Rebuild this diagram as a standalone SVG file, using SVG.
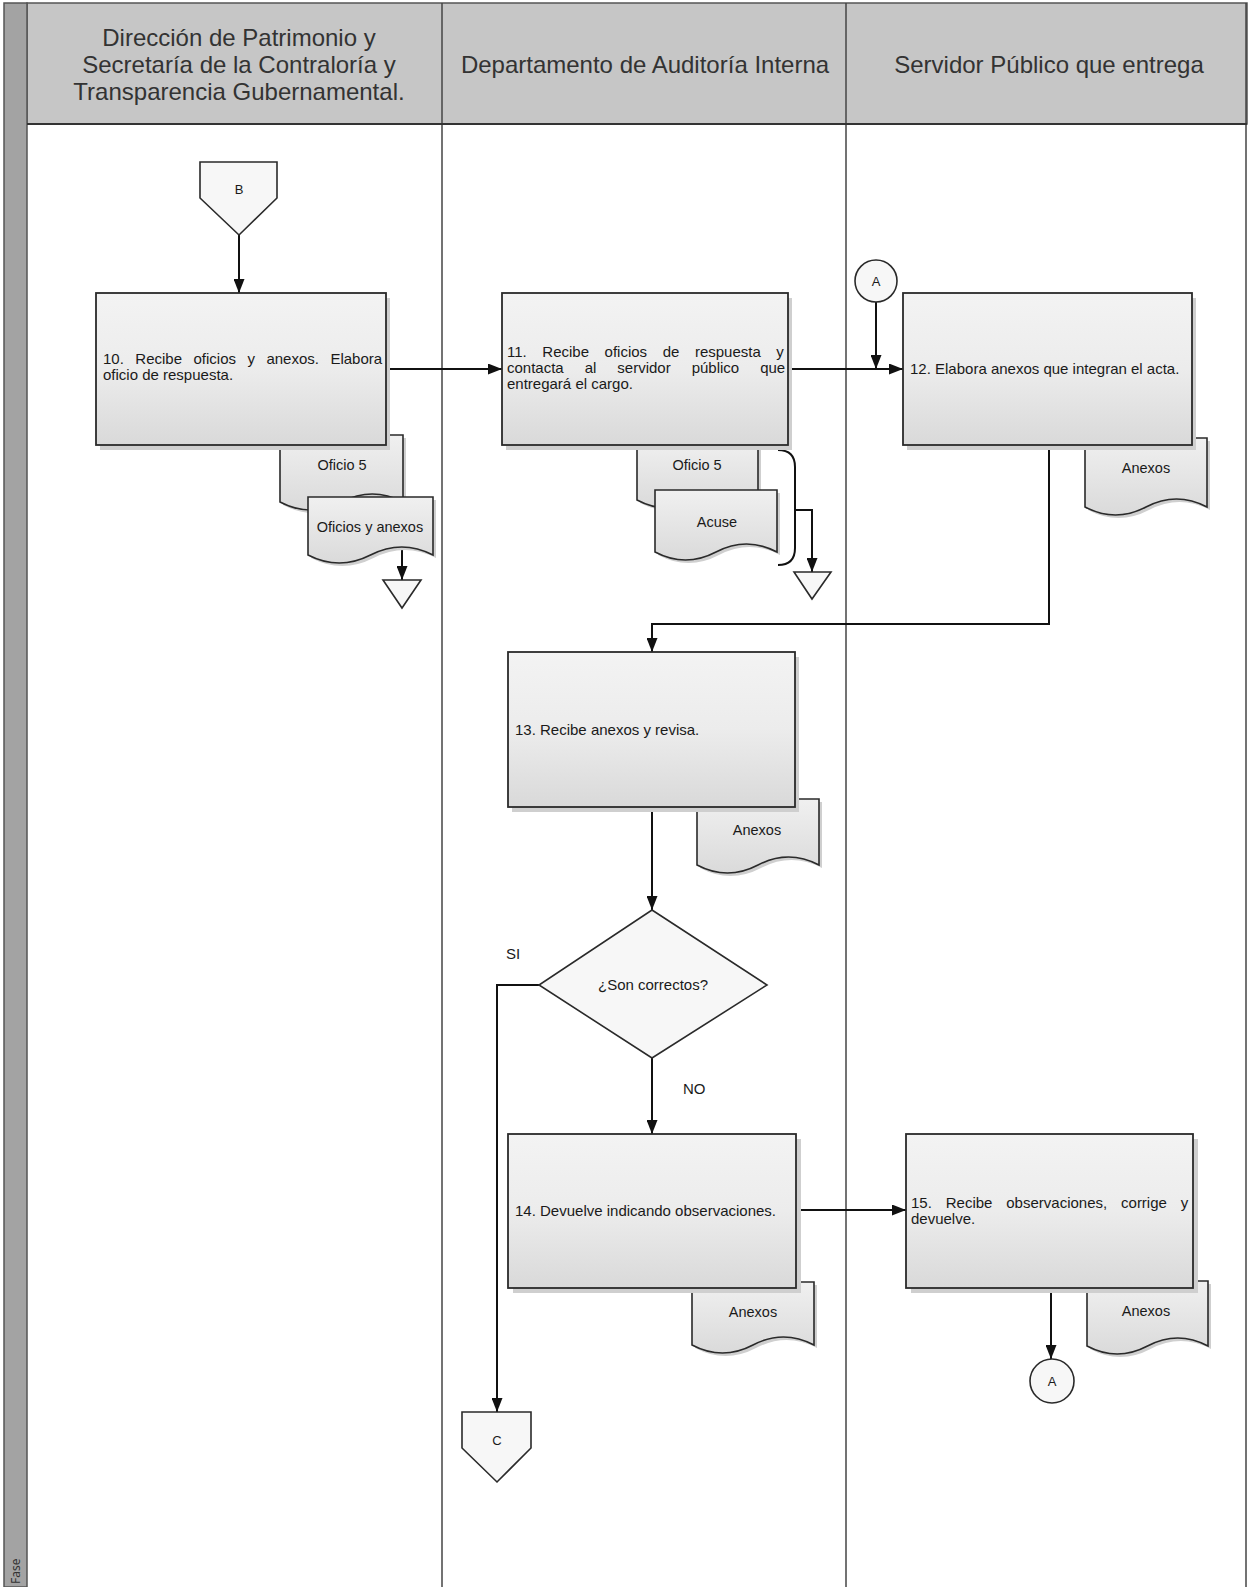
<svg xmlns="http://www.w3.org/2000/svg" width="1249" height="1587" viewBox="0 0 1249 1587">
<defs>
<style>
.hdr{font-family:"Liberation Sans",Arial,sans-serif;font-size:24px;fill:#333;text-anchor:middle}
.t{font-family:"Liberation Sans",Arial,sans-serif;font-size:15px;fill:#1a1a1a}
.dt{font-family:"Liberation Sans",Arial,sans-serif;font-size:14.5px;fill:#1a1a1a;text-anchor:middle}
.lb{font-family:"Liberation Sans",Arial,sans-serif;font-size:13px;fill:#1a1a1a;text-anchor:middle}
.box{fill:url(#gBox);stroke:#2a2a2a;stroke-width:1.8}
.doc{fill:url(#gDoc);stroke:#2a2a2a;stroke-width:1.6}
.shadow{fill:#cfcfcf}
.sym{fill:#f7f7f7;stroke:#2a2a2a;stroke-width:1.6}
.ln{fill:none;stroke:#111;stroke-width:2}
.arr{fill:none;stroke:#111;stroke-width:2;marker-end:url(#ah)}
.lane{stroke:#444;stroke-width:1.5}
</style>
<linearGradient id="gBox" x1="0" y1="0" x2="0" y2="1">
<stop offset="0" stop-color="#f3f3f3"/>
<stop offset="0.5" stop-color="#ececec"/>
<stop offset="1" stop-color="#d9d9d9"/>
</linearGradient>
<linearGradient id="gDoc" x1="0" y1="0" x2="0" y2="1">
<stop offset="0" stop-color="#f0f0f0"/>
<stop offset="1" stop-color="#dadada"/>
</linearGradient>
<marker id="ah" markerWidth="14" markerHeight="11" refX="14" refY="5.5" orient="auto" markerUnits="userSpaceOnUse">
<path d="M0,0 L14,5.5 L0,11 Z" fill="#111"/>
</marker>
</defs>

<g id="frame">
<rect x="0" y="0" width="1249" height="1587" fill="#ffffff"/>
<rect x="27" y="3" width="1220" height="121" fill="#c6c6c6" stroke="#555" stroke-width="1.5"/>
<rect x="4" y="3" width="23" height="1584" fill="#a3a3a3" stroke="#555" stroke-width="1.5"/>
<line class="lane" x1="442" y1="3" x2="442" y2="1587"/>
<line class="lane" x1="846" y1="3" x2="846" y2="1587"/>
<line class="lane" x1="1246" y1="3" x2="1246" y2="1587"/>
<line x1="27" y1="124" x2="1247" y2="124" stroke="#333" stroke-width="2"/>
<text class="hdr" x="239" y="46">Dirección de Patrimonio y</text>
<text class="hdr" x="239" y="73">Secretaría de la Contraloría y</text>
<text class="hdr" x="239" y="100">Transparencia Gubernamental.</text>
<text class="hdr" x="645" y="73">Departamento de Auditoría Interna</text>
<text class="hdr" x="1049" y="73">Servidor Público que entrega</text>
<text x="20" y="1584" transform="rotate(-90 20 1584)" font-family="'Noto Sans','Liberation Sans',sans-serif" font-size="12" fill="#333">Fase</text>
</g>

<g id="connectors">
<path class="arr" d="M239,235 V293"/>
<path class="arr" d="M386,369 H502"/>
<path class="arr" d="M788,369 H903"/>
<path class="arr" d="M876,302 V369"/>
<path class="arr" d="M402,547 V580"/>
<path class="ln" d="M778,450 Q795,450 795,467 V548 Q795,565 778,565"/>
<path class="arr" d="M795,510 H812 V572"/>
<path class="arr" d="M1049,445 V624 H652 V652"/>
<path class="arr" d="M652,807 V910"/>
<path class="arr" d="M539,985 H497 V1412"/>
<path class="arr" d="M652,1058 V1134"/>
<path class="arr" d="M796,1210 H906"/>
<path class="arr" d="M1051,1288 V1359"/>
<text class="t" x="506" y="959">SI</text>
<text class="t" x="683" y="1094">NO</text>
</g>

<g id="conn-B">
<path class="sym" d="M200,162 H277 V198 L239,235 L200,198 Z"/>
<text class="lb" x="239" y="194">B</text>
</g>

<g id="doc-10a">
<path class="shadow" transform="translate(3,3)" d="M280,435 L280,502 Q310.75,518 341.5,502 T403,502 L403,435 Z"/>
<path class="doc" d="M280,435 L280,502 Q310.75,518 341.5,502 T403,502 L403,435 Z"/>
<text class="dt" x="342" y="470">Oficio 5</text>
</g>
<g id="doc-10b">
<path class="shadow" transform="translate(3,3)" d="M308,497 L308,555 Q339.25,571 370.5,555 T433,555 L433,497 Z"/>
<path class="doc" d="M308,497 L308,555 Q339.25,571 370.5,555 T433,555 L433,497 Z"/>
<text class="dt" x="370" y="532">Oficios y anexos</text>
</g>
<g id="store-10">
<path class="sym" d="M383,580 H421 L402,608 Z"/>
</g>

<g id="box-10">
<rect class="shadow" x="100" y="298" width="290" height="152"/>
<rect class="box" x="96" y="293" width="290" height="152"/>
<text class="t" x="103" y="364" word-spacing="7.3">10. Recibe oficios y anexos. Elabora</text>
<text class="t" x="103" y="380">oficio de respuesta.</text>
</g>

<g id="doc-11a">
<path class="shadow" transform="translate(3,3)" d="M637,440 L637,500 Q667.25,516 697.5,500 T758,500 L758,440 Z"/>
<path class="doc" d="M637,440 L637,500 Q667.25,516 697.5,500 T758,500 L758,440 Z"/>
<text class="dt" x="697" y="470">Oficio 5</text>
</g>
<g id="doc-11b">
<path class="shadow" transform="translate(3,3)" d="M655,490 L655,552 Q685.5,568 716,552 T777,552 L777,490 Z"/>
<path class="doc" d="M655,490 L655,552 Q685.5,568 716,552 T777,552 L777,490 Z"/>
<text class="dt" x="717" y="527">Acuse</text>
</g>
<g id="store-11">
<path class="sym" d="M794,572 H831 L812,599 Z"/>
</g>

<g id="box-11">
<rect class="shadow" x="506" y="298" width="286" height="152"/>
<rect class="box" x="502" y="293" width="286" height="152"/>
<text class="t" x="507" y="357" word-spacing="11.4">11. Recibe oficios de respuesta y</text>
<text class="t" x="507" y="373" word-spacing="16.8">contacta al servidor público que</text>
<text class="t" x="507" y="389">entregará el cargo.</text>
</g>

<g id="conn-A-top">
<circle class="sym" cx="876" cy="281" r="21"/>
<text class="lb" x="876" y="286">A</text>
</g>

<g id="doc-12">
<path class="shadow" transform="translate(3,3)" d="M1085,438 L1085,507 Q1115.5,523 1146,507 T1207,507 L1207,438 Z"/>
<path class="doc" d="M1085,438 L1085,507 Q1115.5,523 1146,507 T1207,507 L1207,438 Z"/>
<text class="dt" x="1146" y="473">Anexos</text>
</g>
<g id="box-12">
<rect class="shadow" x="907" y="298" width="289" height="152"/>
<rect class="box" x="903" y="293" width="289" height="152"/>
<text class="t" x="910" y="374">12. Elabora anexos que integran el acta.</text>
</g>

<g id="doc-13">
<path class="shadow" transform="translate(3,3)" d="M697,799 L697,865 Q727.5,881 758,865 T819,865 L819,799 Z"/>
<path class="doc" d="M697,799 L697,865 Q727.5,881 758,865 T819,865 L819,799 Z"/>
<text class="dt" x="757" y="835">Anexos</text>
</g>
<g id="box-13">
<rect class="shadow" x="512" y="657" width="287" height="155"/>
<rect class="box" x="508" y="652" width="287" height="155"/>
<text class="t" x="515" y="735">13. Recibe anexos y revisa.</text>
</g>

<g id="dec-14">
<path class="sym" d="M652,910 L767,985 L652,1058 L539,985 Z" fill="#fafafa"/>
<text class="t" x="653" y="990" text-anchor="middle" font-size="14.5">¿Son correctos?</text>
</g>

<g id="doc-14">
<path class="shadow" transform="translate(3,3)" d="M692,1282 L692,1345 Q722.5,1361 753,1345 T814,1345 L814,1282 Z"/>
<path class="doc" d="M692,1282 L692,1345 Q722.5,1361 753,1345 T814,1345 L814,1282 Z"/>
<text class="dt" x="753" y="1317">Anexos</text>
</g>
<g id="box-14">
<rect class="shadow" x="513" y="1139" width="288" height="154"/>
<rect class="box" x="508" y="1134" width="288" height="154"/>
<text class="t" x="515" y="1216">14. Devuelve indicando observaciones.</text>
</g>

<g id="doc-15">
<path class="shadow" transform="translate(3,3)" d="M1087,1281 L1087,1346 Q1117.25,1362 1147.5,1346 T1208,1346 L1208,1281 Z"/>
<path class="doc" d="M1087,1281 L1087,1346 Q1117.25,1362 1147.5,1346 T1208,1346 L1208,1281 Z"/>
<text class="dt" x="1146" y="1316">Anexos</text>
</g>
<g id="box-15">
<rect class="shadow" x="911" y="1139" width="287" height="154"/>
<rect class="box" x="906" y="1134" width="287" height="154"/>
<text class="t" x="911" y="1208" word-spacing="9.7">15. Recibe observaciones, corrige y</text>
<text class="t" x="911" y="1224">devuelve.</text>
</g>

<g id="conn-A-bottom">
<circle class="sym" cx="1052" cy="1381" r="22"/>
<text class="lb" x="1052" y="1386">A</text>
</g>

<g id="conn-C">
<path class="sym" d="M462,1412 H531 V1448 L497,1482 L462,1448 Z"/>
<text class="lb" x="497" y="1445">C</text>
</g>
</svg>
